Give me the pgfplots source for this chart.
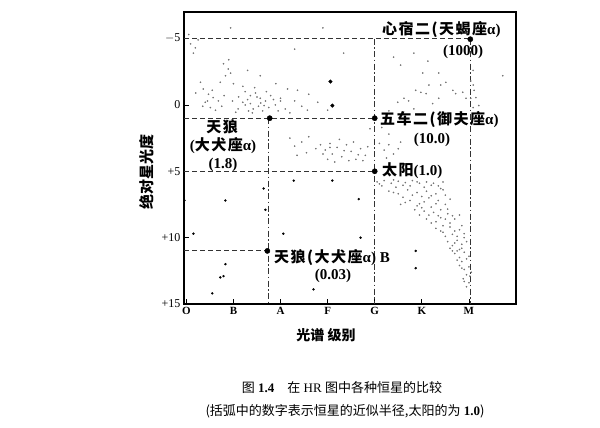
\documentclass[border=0pt]{standalone}
\usepackage{fontspec}
\setmainfont{Liberation Serif}
\newfontfamily\cjk{Noto Sans CJK SC}
\newfontfamily\cjkw[LetterSpace=10]{Noto Sans CJK SC}
\usepackage{pgfplots}
\pgfplotsset{compat=1.18}

% background stars (spectral class: O=0 ... M=6, absolute magnitude)
\pgfplotstableread{
x y
0.05 -5.3
0.25 -4.9
0.09 -4.6
0.19 -4.3
0.15 -3.9
0.90 -3.4
0.79 -3.1
0.89 -2.7
0.94 -2.4
0.83 -2.2
0.72 -1.7
0.30 -1.7
0.36 -1.2
0.20 -0.9
0.47 -0.8
0.57 -0.55
0.68 -0.3
0.40 -0.2
0.51 0.2
0.62 0.4
1.25 -1.0
1.36 -0.7
1.47 -0.9
1.57 -0.5
1.68 -0.3
1.79 -0.7
1.89 0.0
1.36 -0.1
1.53 0.1
1.10 0.3
1.32 0.45
1.62 0.45
2.00 -0.3
2.10 0.3
0.98 -0.3
1.11 -0.6
1.20 -1.4
1.45 -1.3
1.70 -1.0
1.25 0.0
1.42 0.3
1.75 0.2
1.05 0.55
1.58 -0.15
1.30 -0.4
1.50 -0.6
1.65 0.05
1.20 -0.2
1.85 -0.4
1.40 0.6
1.95 0.45
0.55 -1.1
0.45 -0.3
0.35 0.1
0.75 0.1
1.00 -1.6
0.80 -0.7
2.30 -0.3
1.30 -2.6
1.57 -2.2
2.15 -1.2
2.36 -1.1
2.00 -0.5
2.79 -0.2
2.57 0.4
3.00 0.4
1.90 -1.6
2.60 -0.8
2.45 0.1
2.20 0.6
0.94 -5.8
2.90 -5.8
3.34 -3.9
2.30 -4.2
2.20 2.5
2.30 3.1
2.45 2.8
2.55 3.6
2.35 3.8
2.60 2.4
2.85 3.0
2.95 3.4
3.05 2.9
3.10 3.7
3.20 3.2
3.30 3.9
3.40 3.0
3.50 3.5
3.60 4.1
3.70 3.3
3.80 3.8
3.00 4.1
3.25 2.6
3.45 4.2
3.15 4.3
3.55 2.8
3.75 4.2
2.90 3.7
3.35 3.45
3.05 3.2
3.65 3.75
2.75 3.3
3.85 3.15
4.10 2.9
4.20 3.4
4.30 3.0
4.40 3.7
4.50 3.3
4.25 4.0
4.55 2.8
4.15 1.7
4.30 2.2
3.90 1.8
4.83 -3.9
4.55 -3.0
5.13 -3.3
5.02 -2.4
5.36 -2.4
5.40 -1.5
5.51 -1.7
4.87 -1.1
4.98 -0.95
5.09 -0.85
4.62 -0.5
4.49 -0.2
4.72 -0.3
5.66 -1.1
5.72 -0.85
5.87 -0.95
6.04 -1.8
6.09 -1.5
6.11 -1.1
6.15 -0.55
6.04 -0.5
5.94 -0.5
6.09 0.2
6.21 0.05
5.15 -1.5
6.72 -2.2
5.23 -0.1
5.36 -0.5
4.83 0.3
4.30 0.45
6.09 -2.6
4.40 -3.6
4.05 5.8
4.20 5.7
4.35 5.9
4.50 5.75
4.65 5.85
4.80 5.7
4.95 5.9
5.10 5.8
5.25 5.9
4.15 6.1
4.45 6.2
4.75 6.1
5.05 6.2
5.35 6.1
5.45 5.8
4.10 5.95
4.40 5.65
4.60 6.05
4.90 5.8
5.20 6.05
5.40 6.3
4.30 6.5
4.50 6.7
4.70 6.4
4.90 6.6
5.10 6.5
5.30 6.7
5.45 6.4
5.00 6.9
4.60 6.95
4.40 6.6
4.80 6.8
5.20 6.85
5.50 6.8
4.55 7.5
4.75 7.2
4.90 7.6
5.05 7.3
5.20 7.7
5.35 7.2
5.50 7.5
5.60 7.1
5.15 7.0
4.85 7.9
5.40 7.9
4.65 7.35
4.95 7.45
5.30 7.45
5.55 7.85
5.00 7.75
4.95 8.3
5.10 8.6
5.25 8.1
5.40 8.5
5.55 8.2
5.70 8.6
5.80 8.3
5.30 8.8
5.60 8.9
5.05 8.0
5.15 8.3
5.35 8.35
5.50 8.6
5.65 8.35
5.20 8.9
5.30 9.3
5.45 9.6
5.60 9.2
5.70 9.5
5.85 9.1
5.90 9.7
5.50 9.9
5.75 9.9
5.45 9.1
5.65 9.75
5.80 9.4
5.40 9.5
5.55 10.3
5.65 10.6
5.75 10.2
5.85 10.5
5.95 10.3
5.80 10.9
5.60 10.8
5.70 10.4
5.90 10.0
5.75 11.0
5.85 10.8
5.70 11.2
5.80 11.5
5.90 11.1
6.00 11.4
5.85 11.8
5.75 11.7
5.65 11.0
5.95 11.6
5.80 12.1
5.90 12.4
6.00 12.2
5.95 12.8
6.05 12.6
5.88 13.1
6.00 13.4
5.95 13.7
5.85 12.3
6.02 12.9
5.90 13.3
}\faint

\pgfplotstableread{
x y
-0.04 7.2
0.83 7.2
2.70 13.9
1.64 6.3
2.06 9.7
0.83 12.0
0.79 12.9
0.72 13.0
0.55 14.2
0.15 9.7
3.66 7.1
3.70 10.0
4.87 11.0
4.87 12.3
1.68 7.9
2.28 5.7
3.10 5.7
}\small

\pgfplotstableread{
x y
3.06 -1.76
3.10 0.05
}\medium

\pgfplotstableread{
x y
6.03 -4.95
4.00 1.0
1.77 1.0
4.00 5.0
1.72 11.0
}\named

\begin{document}
\begin{tikzpicture}
\path[use as bounding box] (0pt,0pt) rectangle (600pt,-428pt);
\begin{axis}[
    at={(184pt,-304pt)}, anchor=south west,
    scale only axis, width=332pt, height=292pt,
    xmin=-0.05, xmax=7, ymin=-7, ymax=15, y dir=reverse,
    axis line style={line width=1.3pt},
    xtick={0,1,2,3,4,5,6}, xticklabels={O,B,A,F,G,K,M},
    ytick={-5,0,5,10,15}, yticklabels={$-$5,0,+5,+10,+15},
    xtick pos=bottom, ytick pos=left,
    tick align=inside, major tick length=5pt,
    tick style={black, line width=0.8pt},
    xticklabel style={font=\bfseries\fontsize{11}{12}\selectfont},
    yticklabel style={font=\fontsize{12}{13}\selectfont},
    clip=false,
]
% guide lines
\addplot[black!80, line width=1.1pt, dash pattern=on 5pt off 3pt] coordinates {(-0.05,-5) (6.03,-5)};
\addplot[black!80, line width=1.1pt, dash pattern=on 5pt off 3pt] coordinates {(-0.05,1) (4,1)};
\addplot[black!80, line width=1.1pt, dash pattern=on 5pt off 3pt] coordinates {(-0.05,5) (4,5)};
\addplot[black!80, line width=1.1pt, dash pattern=on 5pt off 3pt] coordinates {(-0.05,11) (1.72,11)};
\addplot[black!80, line width=1.1pt, dash pattern=on 6pt off 2.5pt on 1.5pt off 2.5pt] coordinates {(4,-5) (4,15)};
\addplot[black!80, line width=1.1pt, dash pattern=on 6pt off 2.5pt on 1.5pt off 2.5pt] coordinates {(1.75,1) (1.75,15)};
\addplot[black!80, line width=1.1pt, dash pattern=on 6pt off 2.5pt on 1.5pt off 2.5pt] coordinates {(6.03,-5) (6.03,15)};
% stars
\addplot[only marks, mark=*, mark size=0.6pt, black!55, mark options={draw=none}] table {\faint};
\addplot[only marks, mark=*, mark size=1pt, black] table {\small};
\addplot[only marks, mark=*, mark size=1.8pt, black] table {\medium};
\addplot[only marks, mark=*, mark size=2.6pt, black] table {\named};
\end{axis}
% annotations
\tikzset{lab/.style={font=\bfseries\fontsize{15}{17}\selectfont}}
\node[lab, anchor=west, inner sep=0pt] at (382pt,-30pt) {{\cjkw 心宿二(天蝎座}α)};
\node[lab] at (463pt,-52pt) {(1000)};
\node[lab, anchor=west, inner sep=0pt] at (380pt,-120pt) {{\cjkw 五车二(御夫座}α)};
\node[lab] at (432pt,-140pt) {(10.0)};
\node[lab, anchor=west, inner sep=0pt] at (382pt,-171pt) {{\cjkw 太阳}(1.0)};
\node[lab] at (222pt,-127pt) {\cjkw 天狼};
\node[lab] at (223pt,-146pt) {({\cjkw 大犬座}α)};
\node[lab] at (223pt,-165pt) {(1.8)};
\node[lab, anchor=west, inner sep=0pt] at (274pt,-258pt) {{\cjkw 天狼(大犬座}α) B};
\node[lab] at (333pt,-276pt) {(0.03)};
% axis titles
\node[rotate=90, font=\cjk\bfseries\fontsize{15}{16}\selectfont] at (147pt,-172pt) {绝对星光度};
\node[font=\cjk\bfseries\fontsize{14}{16}\selectfont] at (326pt,-335pt) {光谱 级别};
% caption
\node[font=\fontsize{13}{15}\selectfont] at (342pt,-388pt) {{\cjk 图} \textbf{1.4}\quad{\cjk 在} HR {\cjk 图中各种恒星的比较}};
\node[font=\fontsize{13}{15}\selectfont] at (345pt,-411pt) {{\cjk (括弧中的数字表示恒星的近似半径,太阳的为} \textbf{1.0}{\cjk )}};
\end{tikzpicture}
\end{document}
